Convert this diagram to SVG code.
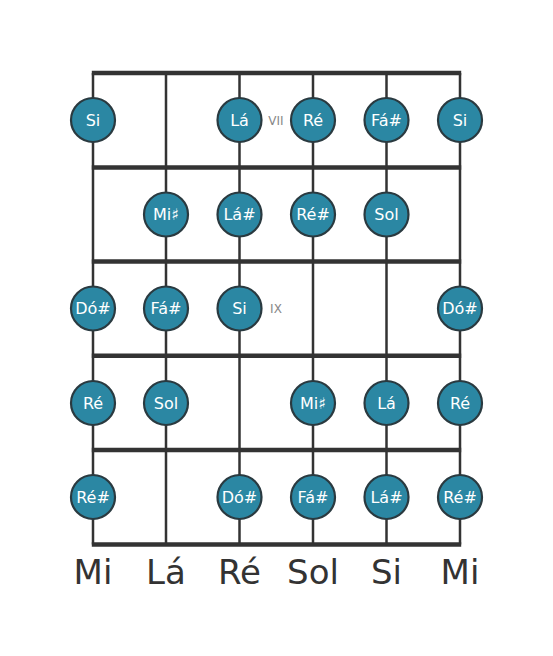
<svg xmlns="http://www.w3.org/2000/svg" width="553" height="656" viewBox="0 0 553 656">
<style>
.fret{stroke:#333;stroke-width:4.5;fill:none}
.str{stroke:#333;stroke-width:2.5;fill:none}
.n circle{fill:#2b87a3;stroke:#2a3a40;stroke-width:2.2}
.n text{fill:#fff;font-family:"DejaVu Sans",sans-serif;font-size:16px;text-anchor:middle;dominant-baseline:central}
.pos{fill:#888;font-family:"DejaVu Sans",sans-serif;font-size:12px;text-anchor:middle;dominant-baseline:central}
.lab{fill:#333;font-family:"DejaVu Sans",sans-serif;font-size:34px;text-anchor:middle}
</style>
<rect width="553" height="656" fill="#fff"/>
<g id="connectors">
<line class="str" x1="93" y1="73" x2="93" y2="544.5"/>
<line class="str" x1="166" y1="73" x2="166" y2="544.5"/>
<line class="str" x1="239.5" y1="73" x2="239.5" y2="544.5"/>
<line class="str" x1="313" y1="73" x2="313" y2="544.5"/>
<line class="str" x1="386.5" y1="73" x2="386.5" y2="544.5"/>
<line class="str" x1="460" y1="73" x2="460" y2="544.5"/>
<line class="fret" x1="91.8" y1="73" x2="461.2" y2="73"/>
<line class="fret" x1="91.8" y1="167.5" x2="461.2" y2="167.5"/>
<line class="fret" x1="91.8" y1="261.5" x2="461.2" y2="261.5"/>
<line class="fret" x1="91.8" y1="355.8" x2="461.2" y2="355.8"/>
<line class="fret" x1="91.8" y1="450" x2="461.2" y2="450"/>
<line class="fret" x1="91.8" y1="544.5" x2="461.2" y2="544.5"/>
</g>
<text class="pos" x="276" y="120.5">VII</text>
<text class="pos" x="276" y="309">IX</text>
<g id="n1" class="n"><circle cx="93" cy="120" r="22"/><text x="93" y="120">Si</text></g>
<g id="n2" class="n"><circle cx="239.5" cy="120" r="22"/><text x="239.5" y="120">Lá</text></g>
<g id="n3" class="n"><circle cx="313" cy="120" r="22"/><text x="313" y="120">Ré</text></g>
<g id="n4" class="n"><circle cx="386.5" cy="120" r="22"/><text x="386.5" y="120">Fá#</text></g>
<g id="n5" class="n"><circle cx="460" cy="120" r="22"/><text x="460" y="120">Si</text></g>
<g id="n6" class="n"><circle cx="166" cy="214.5" r="22"/><text x="166" y="214.5">Mi♯</text></g>
<g id="n7" class="n"><circle cx="239.5" cy="214.5" r="22"/><text x="239.5" y="214.5">Lá#</text></g>
<g id="n8" class="n"><circle cx="313" cy="214.5" r="22"/><text x="313" y="214.5">Ré#</text></g>
<g id="n9" class="n"><circle cx="386.5" cy="214.5" r="22"/><text x="386.5" y="214.5">Sol</text></g>
<g id="n10" class="n"><circle cx="93" cy="308.5" r="22"/><text x="93" y="308.5">Dó#</text></g>
<g id="n11" class="n"><circle cx="166" cy="308.5" r="22"/><text x="166" y="308.5">Fá#</text></g>
<g id="n12" class="n"><circle cx="239.5" cy="308.5" r="22"/><text x="239.5" y="308.5">Si</text></g>
<g id="n13" class="n"><circle cx="460" cy="308.5" r="22"/><text x="460" y="308.5">Dó#</text></g>
<g id="n14" class="n"><circle cx="93" cy="403" r="22"/><text x="93" y="403">Ré</text></g>
<g id="n15" class="n"><circle cx="166" cy="403" r="22"/><text x="166" y="403">Sol</text></g>
<g id="n16" class="n"><circle cx="313" cy="403" r="22"/><text x="313" y="403">Mi♯</text></g>
<g id="n17" class="n"><circle cx="386.5" cy="403" r="22"/><text x="386.5" y="403">Lá</text></g>
<g id="n18" class="n"><circle cx="460" cy="403" r="22"/><text x="460" y="403">Ré</text></g>
<g id="n19" class="n"><circle cx="93" cy="497" r="22"/><text x="93" y="497">Ré#</text></g>
<g id="n20" class="n"><circle cx="239.5" cy="497" r="22"/><text x="239.5" y="497">Dó#</text></g>
<g id="n21" class="n"><circle cx="313" cy="497" r="22"/><text x="313" y="497">Fá#</text></g>
<g id="n22" class="n"><circle cx="386.5" cy="497" r="22"/><text x="386.5" y="497">Lá#</text></g>
<g id="n23" class="n"><circle cx="460" cy="497" r="22"/><text x="460" y="497">Ré#</text></g>
<g id="labels">
<text class="lab" x="93" y="584">Mi</text>
<text class="lab" x="166" y="584">Lá</text>
<text class="lab" x="239.5" y="584">Ré</text>
<text class="lab" x="313" y="584">Sol</text>
<text class="lab" x="386.5" y="584">Si</text>
<text class="lab" x="460" y="584">Mi</text>
</g>
</svg>
